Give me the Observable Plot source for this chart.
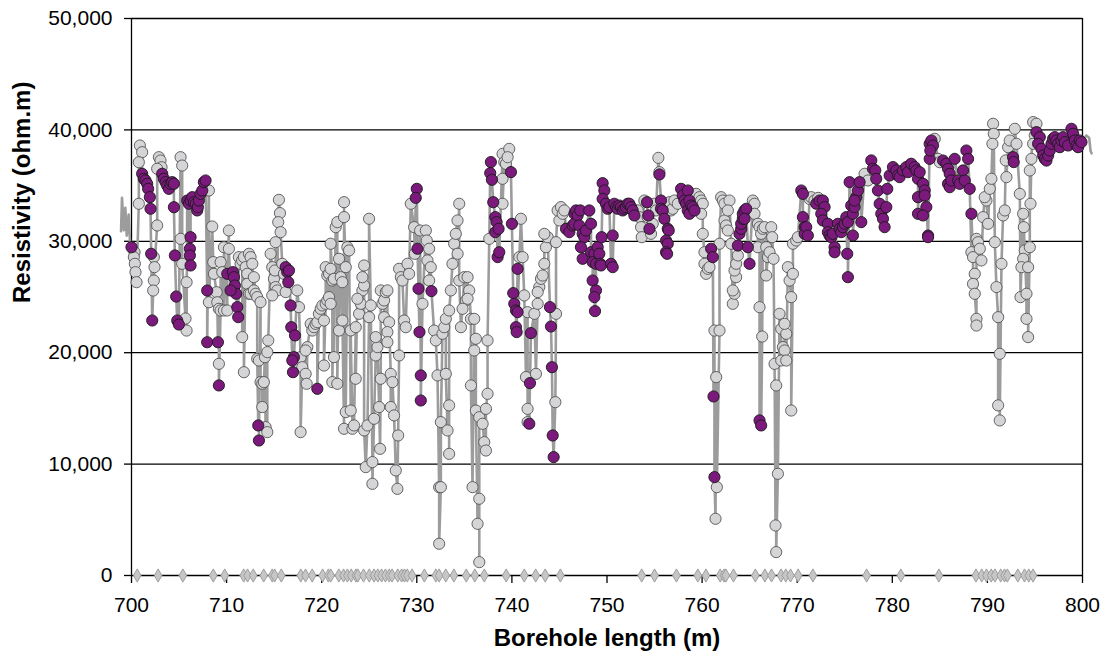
<!DOCTYPE html>
<html><head><meta charset="utf-8">
<script src="https://cdn.jsdelivr.net/npm/d3@7"></script>
<script src="https://cdn.jsdelivr.net/npm/@observablehq/plot@0.6"></script>
<style>html,body{margin:0;padding:0;background:#fff;}</style>
</head><body><div id="chart"></div>
<script>
// Borehole length (m), resistivity (ohm.m) — grey-marker readings
const grayPoints = [
[700.32,29020],[700.25,28580],[700.35,27980],[700.42,27230],[700.53,26330],[700.77,33370],[700.88,38600],[701.12,38000],[700.77,37100],
[702.7,31420],[702.35,28580],[702.42,27680],[702.35,26480],[702.28,25580],[702.88,37550],[703.05,37250],[703.16,36650],[702.7,36510],
[705.16,37550],[705.33,36800],[705.16,30220],[705.33,27980],[705.79,26330],[705.68,23070],[705.79,21990],
[708.14,34560],[708.49,31330],[708.6,28130],[708.67,27080],[708.14,24530],[708.95,25430],[709.02,24530],[709.19,23940],[709.37,23790],[709.72,23790],[709.19,19000],[709.37,28130],[709.54,27230],[709.72,29470],
[710.24,30970],[710.24,29330],[710.07,23790],[711.29,28580],[711.47,27980],[711.64,28280],[711.82,28580],[712.0,27680],[712.17,27080],[712.35,28880],[712.52,28580],[712.7,27980],[711.64,21400],[711.82,18250],[712.17,26180],[712.35,25290],[712.52,25290],[712.87,25590],[713.05,25290],[713.22,24990],[713.57,24540],[712.87,26780],[713.22,19450],[713.4,19300],[713.57,17360],[713.75,17210],[713.92,17360],[713.75,15120],[714.1,13320],[714.28,12870],[714.03,19600],[714.28,20050],[714.38,21100],[714.63,28880],[714.8,27680],[714.98,26630],[715.08,27380],[715.15,25890],[715.33,25590],[714.8,25140],[715.5,33720],[715.61,32530],[715.43,31720],[715.68,30820],[715.15,29920],[715.85,27980],[716.03,27080],[716.21,25440],
[717.43,25590],[717.61,24090],[717.78,19600],[717.96,18700],[718.31,18100],[718.42,17210],[717.78,12870],[718.84,22590],[719.01,21990],[719.19,22290],[719.36,22590],[719.54,22740],[719.71,23490],[719.89,23940],[720.07,24240],[720.24,22890],[720.42,24390],[720.59,24690],[720.77,24990],[720.94,24390],[718.49,20500],[718.31,20200],[720.24,18850],[720.42,27680],[720.59,26930],[720.77,27080],[720.94,27530],[721.12,26480],[721.29,26630],[720.94,29780],[721.47,31270],[721.64,31720],[721.82,28430],[722.0,26780],[722.17,26330],[721.29,19600],[721.12,17360],[721.64,17210],[721.82,21990],[722.35,13170],
[722.35,33510],[722.35,32170],[722.7,29470],[722.88,29180],[722.53,27680],[722.18,22890],[722.53,14670],[723.05,14810],[723.23,13170],[723.4,13470],[723.05,22000],[723.58,22290],[723.58,17660],[723.93,23490],[724.11,24390],[724.28,25590],[724.46,26030],[724.28,26780],[724.46,27830],[723.75,24840],[724.46,13020],[724.63,9730],[725.33,10180],[725.33,8230],[724.81,13470],[724.98,23190],[725.16,24240],[724.98,32020],[725.51,14070],[725.68,19750],[725.86,20500],[725.68,21400],[726.04,15120],[726.14,11370],[726.21,17660],[726.21,25590],[726.39,24390],[726.56,24690],[726.74,25440],[726.91,25590],[726.56,23190],[727.09,22740],[726.91,21850],[726.91,20950],[727.26,18100],[727.44,17360],[727.26,15120],[727.61,14370],[727.79,9430],[727.96,7780],[728.04,12570],[728.14,19750],[728.14,27530],[728.32,26780],[728.49,26480],[728.67,22890],[728.84,22290],[729.02,27980],[729.19,27080],[729.37,33370],[729.72,31270],[729.79,28880],[730.35,30970],[730.6,24390],[730.95,30970],[731.05,30070],[731.3,29330],[731.12,28280],[731.47,27680],[731.3,26480],[731.82,21990],[732.0,21100],[732.18,17960],[732.35,7930],[732.53,7930],[732.35,2850],[732.53,13770],[732.7,21700],[732.88,22290],[733.05,23040],[733.05,18100],[733.23,13020],[733.4,15270],[733.4,10920],[733.58,25590],[733.4,23790],[733.75,27980],[733.93,29780],[734.1,30670],[734.28,31870],[734.46,33370],
[734.29,28880],[734.46,26480],[734.64,22290],[734.99,26780],[735.34,26780],[735.51,25590],[735.16,24690],[735.34,24840],[734.81,23940],[735.69,23040],[736.04,23040],[736.21,21250],[736.04,20200],[735.69,17060],[735.86,7930],[736.57,6890],[736.39,4640],[736.57,1200],[736.21,14810],[736.57,14210],[736.92,13620],[737.09,11970],[737.27,11220],[737.27,14960],[737.44,16310],[737.44,21100],[737.62,30220],[739.02,37850],[739.2,37110],[739.37,36950],[739.72,38300],[739.55,37550],[739.02,35610],[739.02,33370],[740.95,32020],[740.78,28580],[741.13,28580],[741.3,25140],[741.65,23640],[741.48,17810],[741.65,14960],[741.65,13770],[742.36,23490],[742.53,18100],[742.71,24390],[742.88,25890],[743.06,26630],[743.23,26930],[742.71,25440],[743.41,27980],[743.58,29470],[743.76,30370],[743.41,30670],[744.57,15560],[744.64,23490],[744.64,29920],[744.99,31870],[744.81,32770],[745.16,33070],[745.34,32470],[745.51,32770],
[753.23,32770],[753.4,32170],[753.58,31270],[753.65,30370],[753.93,33660],[754.28,32170],[754.63,30670],[754.81,31570],[754.98,33370],[755.16,32770],[755.4,37490],[755.51,36210],[756.56,33510],[756.74,32770],[756.91,32920],[757.09,33660],[757.44,33370],
[759.37,34260],[759.72,33960],[759.9,33660],[760.07,33370],[759.9,32470],[760.07,30670],[760.25,29020],[760.25,27980],[760.42,27080],[760.6,27530],[760.78,27680],[761.3,21990],[761.48,17810],[761.55,7930],[761.41,5090],[761.83,21990],[761.83,29780],[762.0,33960],[762.18,33660],[762.35,33370],[762.35,31870],[762.53,31420],[762.71,30970],[762.88,33660],[762.71,32770],[763.06,29780],[763.23,24390],[763.41,25290],[763.23,25590],[763.58,26780],[763.41,27380],[763.58,27980],[763.76,28730],[765.34,33660],[765.51,33370],[765.51,32470],[765.86,31570],[766.04,31270],[766.21,30670],[765.86,29470],[766.39,31120],[766.57,31270],[766.74,29470],[766.92,28580],[767.09,29020],[766.04,24090],[766.32,21450],[766.74,26930],[767.27,31270],[767.37,30370],[767.51,28430],[767.62,19000],[767.79,17060],[767.97,9130],[767.72,4490],[767.79,2100],[768.14,23490],[768.32,22140],[768.5,20500],[768.67,20200],[768.85,21700],[768.67,22590],[768.32,19300],[768.85,19300],[769.02,27680],[769.2,26480],[769.37,24990],[769.55,27080],[769.37,14810],[769.55,29780],[769.9,30070],[770.07,30370],
[771.3,33800],[771.47,33960],[771.82,33660],[772.2,33900],[777.09,36060],[777.44,35460],[781.9,36900],[782.2,36700],
[784.46,39200],[784.81,37400],[784.99,37100],[788.32,29020],[788.49,28580],[788.67,27080],[788.49,26180],[788.67,25290],[788.85,23040],[788.85,22440],[788.85,30220],[789.02,29920],[789.2,29330],[789.37,28280],[789.55,32170],[789.9,33660],[790.07,31570],[789.72,33960],[790.25,34710],[790.42,35610],[790.6,40550],[790.67,39650],[790.53,38750],[790.78,29920],[790.95,25890],[791.13,23190],[791.3,19900],[791.13,15270],[791.3,13920],[791.48,27980],[791.65,32320],[791.83,32770],[792.0,35760],[791.93,37260],[792.18,38450],[792.35,39050],[792.88,40100],[793.06,38750],[793.41,34260],[793.76,32470],[793.83,31270],[793.93,29180],[793.76,28430],[793.58,27680],[793.48,24990],[794.11,25290],[794.28,27680],[794.11,23040],[794.28,21400],[794.46,29470],[794.53,33370],[794.46,36360],[794.63,37400],[794.81,40700],
[795.16,40550],[794.98,39500],[794.81,38750]
];

// purple-marker readings
const purplePoints = [
[700.0,29470],
[701.12,36060],[701.3,35610],[701.47,35460],[701.65,35160],[701.75,34710],[701.93,33960],[702.0,32920],[702.07,28880],[702.18,22890],[703.23,36060],[703.4,35610],[703.58,35310],[703.75,35010],[703.93,34710],[704.1,35160],[704.28,35310],[704.46,35160],[704.46,33060],[704.56,28730],[704.7,25040],[704.81,22890],[704.98,22530],[706.21,30370],[706.14,29330],[706.14,28730],[706.21,27830],[705.86,33660],[706.04,33370],[706.21,33660],[706.39,33960],[706.56,33510],[706.74,33370],[706.91,32770],[706.98,33060],[707.09,33660],[707.26,34260],[707.44,34560],[707.61,35310],[707.79,35460],[707.96,25580],[707.96,20940],[709.09,20940],[709.19,17060],
[710.07,27080],[710.66,27230],[710.77,26780],[710.87,26030],[711.01,25290],[711.12,24090],[711.22,23190],[710.42,25590],[713.33,13470],[713.4,12120],[716.21,27680],[716.38,27230],[716.56,27380],[716.49,26330],[716.73,24240],[716.8,22290],[717.19,21550],[717.08,19600],[716.91,19300],[716.98,18250],[719.54,16760],
[730.0,34710],[729.89,33900],[730.07,29330],[730.18,25740],[730.28,21850],[730.42,17960],[730.42,15710],[731.54,25530],
[737.79,37110],[737.72,36120],[737.9,35520],[738.04,33510],[738.25,32170],[738.39,31720],[738.25,30820],[738.5,28580],[738.67,29020],[738.6,31120],[739.9,36210],[740.0,31570],[740.6,27530],[740.14,25350],[740.25,24390],[740.43,23790],[740.6,23640],[740.43,22290],[740.5,21850],[742.0,21760],[741.9,17270],[741.83,13620],[744.0,24090],[744.11,22350],[744.21,18700],[744.29,12570],[744.39,10630],[745.69,31120],[746.04,30820],[746.39,31420],[746.57,32470],
[746.56,31570],[746.74,32770],[746.91,32320],[747.19,32770],[747.09,31420],[747.44,30670],[747.61,30370],[747.26,29470],[747.44,28430],[747.79,30970],[748.14,32770],[748.32,31570],[748.32,29020],[748.67,28880],[748.49,28130],[748.49,26480],[748.84,25590],[748.67,24990],[748.74,23730],[748.84,27980],[749.02,29470],[749.19,28880],[749.3,27980],[749.44,30370],[749.37,27830],[749.54,35220],[749.72,34560],[749.54,33810],[749.89,33370],[750.07,32920],[750.25,33070],[750.42,27980],[750.6,30520],[750.6,27680],[750.77,33370],[750.95,33070],[751.12,32920],[751.3,33210],[751.47,33070],[751.65,32770],[751.82,32920],[752.0,33070],[752.17,33370],[752.35,33370],[752.53,33070],[752.7,32770],[752.88,32320],[754.21,33510],[754.35,32320],[754.46,31120],[755.51,36000],[755.68,33660],[755.68,32920],[755.86,32770],[756.03,32020],[756.39,31120],[756.49,30970],[756.21,30070],[756.39,29780],[756.21,29020],[756.32,28880],[757.79,34710],[757.96,34110],[758.14,33660],[758.32,33370],[758.49,32770],[758.67,32470],
[758.5,34560],[758.67,33660],[758.85,33210],[759.02,33070],[759.2,32770],[760.95,29330],[761.13,28580],[761.2,16070],[761.3,8830],[763.76,29620],[763.93,30670],[764.11,31120],[764.11,31570],[764.28,32020],[764.28,32470],[764.46,32770],[764.64,32920],[764.46,32020],[764.81,29470],[764.99,27980],[766.04,13920],[766.21,13470],[770.43,34560],[770.6,34260],[770.6,32170],[770.78,31270],[770.78,30670],
[770.95,31270],[771.12,30520],[772.0,33370],[772.35,33660],[772.7,33660],[772.88,33070],[772.53,32470],[772.7,31870],[773.23,31570],[773.23,30820],[773.4,30520],[773.58,30370],[773.75,30670],[773.93,29470],[773.93,29020],[774.28,31570],[774.46,31120],[774.63,30820],[774.81,31270],[774.98,31570],[775.16,32170],[775.33,31720],[775.26,28880],[775.33,26780],[775.51,35310],[775.68,33210],[775.86,32470],[776.03,33070],[776.21,33960],[776.39,34560],[776.56,35310],[776.74,31720],[775.86,30520],[776.03,33660],[777.79,37260],[777.96,36510],[778.21,36360],[778.31,35610],[778.49,34560],[778.67,33370],[778.84,32470],[779.02,32020],[779.19,31270],[779.37,33070],[779.47,34710],[779.72,35910],[780.07,36660],[780.42,36360],[780.6,35910],[780.77,35760],[781.12,36360],[781.47,36660],[781.65,36210],[782.0,36960],[782.35,36660],[782.53,36360],[782.7,35610],[782.88,36210],[782.7,33960],[782.7,32470],
[783.23,35160],[783.41,34560],[783.58,33070],[783.23,32320],[783.41,34110],[783.76,30520],[783.76,30370],[783.93,38750],[784.11,39050],[784.28,38600],[783.93,37400],[784.0,38150],[785.34,37250],[785.69,36960],[785.86,36510],[786.04,36060],[785.86,35160],[786.04,34860],[786.21,35460],[786.56,37400],[786.92,35460],[787.09,35160],[787.44,36360],[787.62,35460],[787.79,38150],[787.97,37400],[788.14,34710],[788.32,32470],[792.7,37550],[792.77,37110],
[795.16,39800],[795.51,39350],[795.33,38750],[795.68,38300],[795.86,37700],[796.04,37400],[796.21,37250],[796.39,37700],[796.56,38150],[796.74,38750],[796.91,39200],[797.09,39350],[797.26,39050],[797.44,38750],[797.61,38450],[797.79,39050],[797.96,39350],[798.14,38900],[798.49,38600],[798.84,40100],[799.02,39650],[799.19,39050],[799.37,38600],[799.54,38450],[799.72,39050],[799.89,38900]
];

// unmarked line stretches running past the axis ends
const lineLead = [[698.9,30900],[699.0,33900],[699.2,31000],[699.35,33000],[699.5,30500],[699.7,32400],[699.85,29800]];
const lineTail = [[800.4,39500],[800.7,39300],[800.85,38100],[800.95,37900]];

// diamond markers sitting on the zero line
const zeroMarkers = [700.6,702.8,705.4,708.6,709.8,711.8,712.2,712.8,713.9,714.8,715.05,715.75,717.8,718.3,719.0,720.1,720.7,720.95,721.8,722.3,722.7,723.1,723.6,723.8,724.4,725.0,725.5,725.9,726.3,726.7,727.1,727.4,728.0,728.4,728.7,729.0,729.5,730.8,732.0,732.35,733.05,733.9,735.2,736.1,737.1,739.4,741.3,742.5,743.5,745.1,753.65,755.0,757.3,759.55,760.4,761.9,762.3,762.5,763.3,765.6,766.6,767.3,768.3,768.8,769.3,770.1,771.65,777.3,780.9,784.9,788.8,789.4,789.9,790.4,790.8,791.4,791.8,792.1,793.2,793.9,794.35,794.8];

const yTicks = [0,10000,20000,30000,40000,50000];
const xTicks = [700,710,720,730,740,750,760,770,780,790,800];
const xTitle = "Borehole length (m)";
const yTitle = "Resistivity (ohm.m)";

const gray = grayPoints.map(([d, r]) => ({d, r}));
const purple = purplePoints.map(([d, r]) => ({d, r}));
const all = [...gray, ...purple].sort((a, b) => a.d - b.d);
const linePts = [...lineLead.map(([d, r]) => ({d, r})), ...all, ...lineTail.map(([d, r]) => ({d, r}))];
const fmtComma = d3.format(",");

const W = 1106, H = 666, ML = 131, MR = 24, MT = 18, MB = 91;
const xDom = [700, 800], yDom = [0, 50000];
// outward tick lengths expressed through the scales (8 px down, 7 px left)
const yPerPx = (yDom[1] - yDom[0]) / (H - MT - MB);
const xPerPx = (xDom[1] - xDom[0]) / (W - ML - MR);

const chart = Plot.plot({
  width: W, height: H,
  marginLeft: ML, marginRight: MR, marginTop: MT, marginBottom: MB,
  style: {fontFamily: "'Liberation Sans', Arial, sans-serif", fontSize: "21px", background: "#fff", color: "#000", overflow: "visible"},
  x: {domain: xDom, ticks: xTicks, tickSize: 0, tickPadding: 22, label: null, tickFormat: d => String(d)},
  y: {domain: yDom, ticks: yTicks, tickFormat: fmtComma, tickSize: 0, tickPadding: 19, label: null},
  marks: [
    Plot.ruleY(yTicks, {stroke: "#000", strokeWidth: 1.3}),
    Plot.ruleX([xDom[0], xDom[1]], {stroke: "#000", strokeWidth: 1.3}),
    Plot.ruleX(xTicks, {y1: yDom[0], y2: yDom[0] - 8 * yPerPx, stroke: "#000", strokeWidth: 1.3}),
    Plot.ruleY(yTicks, {x1: xDom[0] - 7 * xPerPx, x2: xDom[0], stroke: "#000", strokeWidth: 1.3}),
    Plot.line(linePts, {x: "d", y: "r", stroke: "#9c9c9c", strokeWidth: 2.6}),
    Plot.dot(gray, {x: "d", y: "r", r: 5.6, fill: "#d5d5d8", stroke: "#555", strokeWidth: 0.9}),
    Plot.dot(purple, {x: "d", y: "r", r: 5.6, fill: "#7b1a7c", stroke: "#1a1a1a", strokeWidth: 0.9}),
    Plot.dot(zeroMarkers, {x: d => d, y: () => 0, symbol: "diamond", r: 4, fill: "#c6c6c6", stroke: "#9e9e9e", strokeWidth: 1}),
    Plot.text([yTitle], {text: d => d, frameAnchor: "left", dx: -109, dy: 6, rotate: -90, fontWeight: "bold", fontSize: 24}),
    Plot.text([xTitle], {text: d => d, frameAnchor: "bottom", dy: 70, fontWeight: "bold", fontSize: 24})
  ]
});
document.getElementById("chart").appendChild(chart);
</script>
</body></html>
